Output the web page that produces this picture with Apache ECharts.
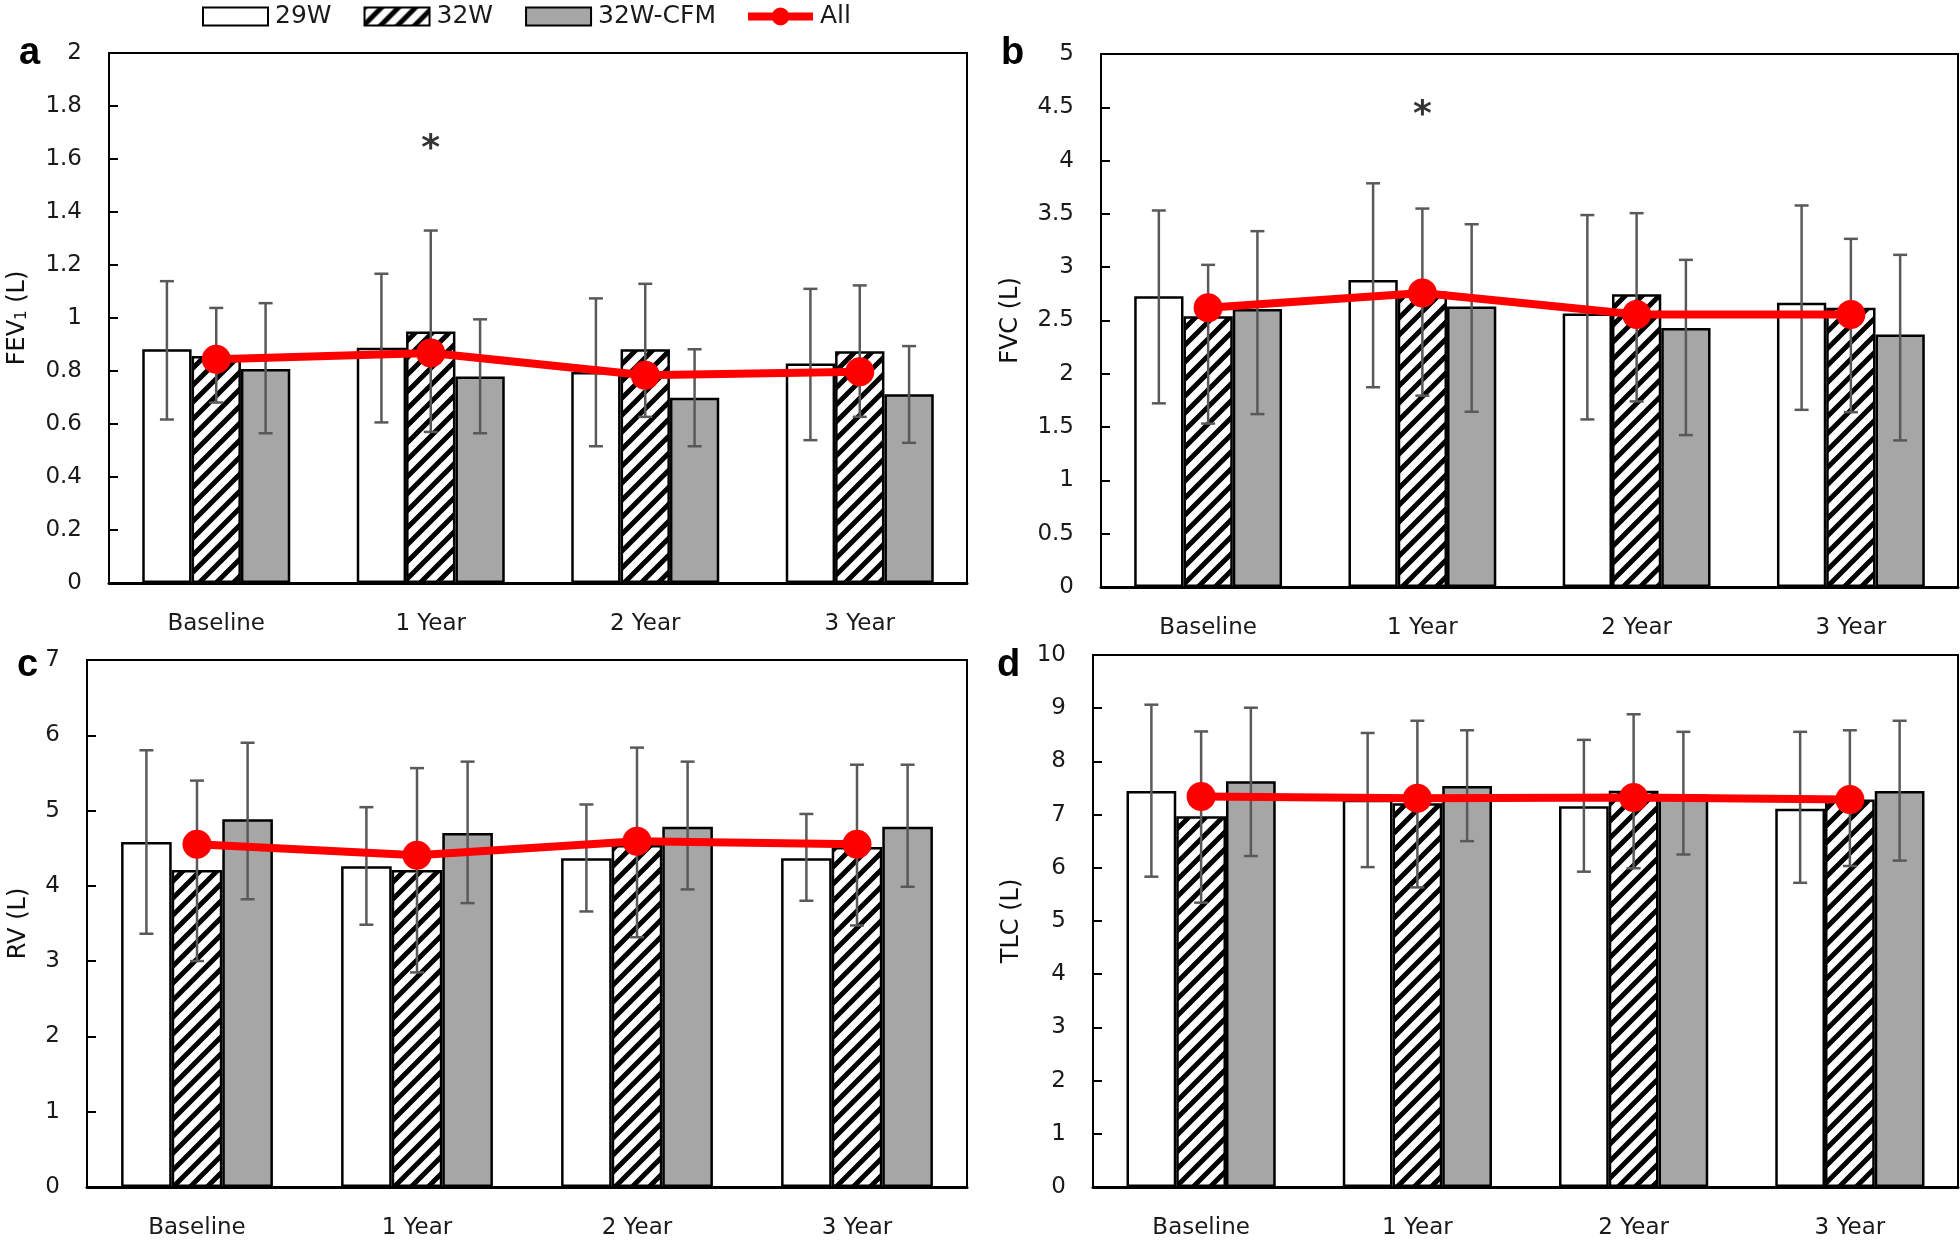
<!DOCTYPE html>
<html><head><meta charset="utf-8">
<script src="https://cdn.jsdelivr.net/npm/echarts@6/dist/echarts.min.js"></script>
<style>html,body{margin:0;padding:0;background:#fff}#c{width:1960px;height:1240px}</style>
</head><body><div id="c"></div>
<script>
const categories = ['Baseline', '1 Year', '2 Year', '3 Year'];
const groupNames = ['29W', '32W', '32W-CFM'];
const lineName = 'All';

// a: FEV1
const fev29 = [0.882, 0.888, 0.796, 0.828];
const fev29Lo = [0.617, 0.606, 0.516, 0.539];
const fev29Hi = [1.139, 1.167, 1.074, 1.110];
const fev32 = [0.857, 0.949, 0.882, 0.875];
const fev32Lo = [0.681, 0.570, 0.627, 0.627];
const fev32Hi = [1.038, 1.330, 1.129, 1.123];
const fevCFM = [0.808, 0.779, 0.699, 0.712];
const fevCFMLo = [0.565, 0.565, 0.516, 0.529];
const fevCFMHi = [1.056, 0.995, 0.882, 0.894];
const fevAll = [0.844, 0.868, 0.784, 0.797];
const fevStar = [null, 1.66, null, null];

// b: FVC
const fvc29 = [2.728, 2.879, 2.566, 2.667];
const fvc29Lo = [1.723, 1.874, 1.572, 1.662];
const fvc29Hi = [3.532, 3.787, 3.489, 3.579];
const fvc32 = [2.541, 2.771, 2.746, 2.620];
const fvc32Lo = [1.533, 1.795, 1.741, 1.640];
const fvc32Hi = [3.022, 3.550, 3.507, 3.266];
const fvcCFM = [2.609, 2.631, 2.430, 2.369];
const fvcCFMLo = [1.622, 1.644, 1.425, 1.375];
const fvcCFMHi = [3.338, 3.403, 3.069, 3.116];
const fvcAll = [2.620, 2.757, 2.556, 2.556];
const fvcStar = [null, 4.49, null, null];

// c: RV
const rv29 = [4.582, 4.260, 4.366, 4.366];
const rv29Lo = [3.364, 3.484, 3.660, 3.802];
const rv29Hi = [5.801, 5.045, 5.081, 4.955];
const rv32 = [4.209, 4.209, 4.542, 4.517];
const rv32Lo = [3.001, 2.850, 3.318, 3.474];
const rv32Hi = [5.398, 5.564, 5.836, 5.609];
const rvCFM = [4.884, 4.703, 4.784, 4.784];
const rvCFMLo = [3.822, 3.771, 3.953, 3.988];
const rvCFMHi = [5.901, 5.650, 5.650, 5.609];
const rvAll = [4.552, 4.406, 4.592, 4.552];

// d: TLC
const tlc29 = [7.443, 7.280, 7.155, 7.112];
const tlc29Lo = [5.833, 6.013, 5.927, 5.718];
const tlc29Hi = [9.066, 8.534, 8.405, 8.556];
const tlc32 = [6.968, 7.213, 7.450, 7.284];
const tlc32Lo = [5.345, 5.632, 5.991, 6.034];
const tlc32Hi = [8.563, 8.764, 8.886, 8.585];
const tlcCFM = [7.629, 7.536, 7.378, 7.443];
const tlcCFMLo = [6.221, 6.501, 6.250, 6.135];
const tlcCFMHi = [9.009, 8.585, 8.556, 8.764];
const tlcAll = [7.342, 7.306, 7.320, 7.284];

// y-axis settings (ticks)
const yMax = [2, 5, 7, 10];
const yStep = [0.2, 0.5, 1, 1];

const FONT = 'DejaVu Sans';
const CAT_GAP = 0.31;

function hatchPattern() {
  const s = 17;
  const c = document.createElement('canvas');
  c.width = s; c.height = s;
  const g = c.getContext('2d');
  g.fillStyle = '#fff'; g.fillRect(0, 0, s, s);
  g.strokeStyle = '#000'; g.lineWidth = 5;
  g.beginPath();
  g.moveTo(-2, 2); g.lineTo(2, -2);
  g.moveTo(-2, s + 2); g.lineTo(s + 2, -2);
  g.moveTo(s - 2, s + 2); g.lineTo(s + 2, s - 2);
  g.stroke();
  return { image: c, repeat: 'repeat' };
}
const hatch = hatchPattern();

const panels = [
  { means: [fev29, fev32, fevCFM], lo: [fev29Lo, fev32Lo, fevCFMLo], hi: [fev29Hi, fev32Hi, fevCFMHi], all: fevAll, star: fevStar,
    grid: { left: 109, top: 53, width: 858, height: 530 }, name: '{t|FEV}{s|1}{t| (L)}', nameGap: 79, letter: 'a', lx: 14, ly: 30 },
  { means: [fvc29, fvc32, fvcCFM], lo: [fvc29Lo, fvc32Lo, fvcCFMLo], hi: [fvc29Hi, fvc32Hi, fvcCFMHi], all: fvcAll, star: fvcStar,
    grid: { left: 1101, top: 54, width: 857, height: 533 }, name: '{t|FVC (L)}', nameGap: 78, letter: 'b', lx: 996, ly: 30 },
  { means: [rv29, rv32, rvCFM], lo: [rv29Lo, rv32Lo, rvCFMLo], hi: [rv29Hi, rv32Hi, rvCFMHi], all: rvAll, star: null,
    grid: { left: 87, top: 660, width: 880, height: 532 }, name: '{t|RV (L)}', nameGap: 56, letter: 'c', lx: 12, ly: 642 },
  { means: [tlc29, tlc32, tlcCFM], lo: [tlc29Lo, tlc32Lo, tlcCFMLo], hi: [tlc29Hi, tlc32Hi, tlcCFMHi], all: tlcAll, star: null,
    grid: { left: 1093, top: 655, width: 865, height: 533 }, name: '{t|TLC (L)}', nameGap: 69, letter: 'd', lx: 992, ly: 642 }
];

function errRender(offsetIdx) {
  return function (params, api) {
    const x = api.value(0), lo = api.value(1), hi = api.value(2);
    const pLo = api.coord([x, lo]), pHi = api.coord([x, hi]);
    const band = api.size([1, 0])[0];
    const bw = band * (1 - CAT_GAP) / 3;
    const cx = pLo[0] + offsetIdx * bw;
    const cap = 7;
    const style = { stroke: '#595959', lineWidth: 2.5, fill: null };
    return { type: 'group', children: [
      { type: 'line', shape: { x1: cx, y1: pHi[1], x2: cx, y2: pLo[1] }, style: style },
      { type: 'line', shape: { x1: cx - cap, y1: pHi[1], x2: cx + cap, y2: pHi[1] }, style: style },
      { type: 'line', shape: { x1: cx - cap, y1: pLo[1], x2: cx + cap, y2: pLo[1] }, style: style }
    ] };
  };
}

const barStyles = [
  { color: '#ffffff', borderColor: '#000', borderWidth: 2.5 },
  { color: hatch, borderColor: '#000', borderWidth: 2.5 },
  { color: '#a6a6a6', borderColor: '#000', borderWidth: 2.5 }
];

const grids = [], xAxes = [], yAxes = [], series = [], titles = [];
panels.forEach((p, i) => {
  grids.push(Object.assign({ show: true, borderColor: '#000', borderWidth: 2, backgroundColor: 'transparent' }, p.grid));
  xAxes.push({
    type: 'category', gridIndex: i, data: categories,
    axisLine: { show: true, lineStyle: { color: '#000', width: 3 } },
    axisTick: { show: false },
    axisLabel: { fontFamily: FONT, fontSize: 23, color: '#1a1a1a', margin: 30 },
    splitLine: { show: false }
  });
  yAxes.push({
    type: 'value', gridIndex: i, min: 0, max: yMax[i], interval: yStep[i],
    name: p.name, nameLocation: 'middle', nameRotate: 90, nameGap: p.nameGap,
    nameTextStyle: { rich: {
      t: { fontFamily: FONT, fontSize: 24, color: '#111' },
      s: { fontFamily: FONT, fontSize: 15, color: '#111', padding: [10, 0, 0, 0] }
    } },
    axisLine: { show: true, lineStyle: { color: '#000', width: 2 } },
    axisTick: { show: true, inside: true, length: 9, lineStyle: { color: '#000', width: 2 } },
    axisLabel: { fontFamily: FONT, fontSize: 23, color: '#1a1a1a', margin: 27 },
    splitLine: { show: false }
  });
  titles.push({ text: p.letter, left: p.lx, top: p.ly, textStyle: { fontFamily: 'Liberation Sans', fontWeight: 'bold', fontSize: 38, color: '#000' } });
  for (let k = 0; k < 3; k++) {
    series.push({
      type: 'bar', name: groupNames[k], xAxisIndex: i, yAxisIndex: i,
      data: p.means[k], barGap: '0%', barCategoryGap: (CAT_GAP * 100) + '%',
      itemStyle: barStyles[k], z: 2, emphasis: { disabled: true }
    });
  }
  for (let k = 0; k < 3; k++) {
    series.push({
      type: 'custom', name: 'err' + i + k, xAxisIndex: i, yAxisIndex: i,
      data: categories.map((c, j) => [j, p.lo[k][j], p.hi[k][j]]),
      encode: { x: 0, y: [1, 2] }, renderItem: errRender(k - 1), z: 3, silent: true
    });
  }
  series.push({
    type: 'line', name: lineName, xAxisIndex: i, yAxisIndex: i, data: p.all,
    symbol: 'circle', symbolSize: 29, lineStyle: { color: '#ff0000', width: 8 },
    itemStyle: { color: '#ff0000' }, z: 5, emphasis: { disabled: true }
  });
  if (p.star) {
    series.push({
      type: 'scatter', name: 'star' + i, xAxisIndex: i, yAxisIndex: i, data: p.star,
      symbolSize: 1, itemStyle: { color: 'rgba(0,0,0,0)' }, z: 6, silent: true,
      label: { show: true, position: 'inside', formatter: '*', fontFamily: FONT, fontWeight: 'bold', fontSize: 36, color: '#000', offset: [0, 7] }
    });
  }
});

const lineIcon = 'path://M0,6 L80,6 L80,16 L0,16 Z M40,0 A11,11 0 1,1 40,22 A11,11 0 1,1 40,0 Z';

const chart = echarts.init(document.getElementById('c'), null, { renderer: 'canvas' });
chart.setOption({
  animation: false,
  backgroundColor: '#fff',
  title: titles,
  legend: {
    data: [
      { name: '29W', icon: 'rect' },
      { name: '32W', icon: 'rect' },
      { name: '32W-CFM', icon: 'rect' },
      { name: 'All', icon: lineIcon }
    ],
    left: 197, top: -1,
    itemWidth: 65, itemHeight: 18, itemGap: 32,
    textStyle: { fontFamily: FONT, fontSize: 25, color: '#1a1a1a', padding: [0, 0, 0, 2] },
    selectedMode: false
  },
  grid: grids, xAxis: xAxes, yAxis: yAxes, series: series
});
</script></body></html>
